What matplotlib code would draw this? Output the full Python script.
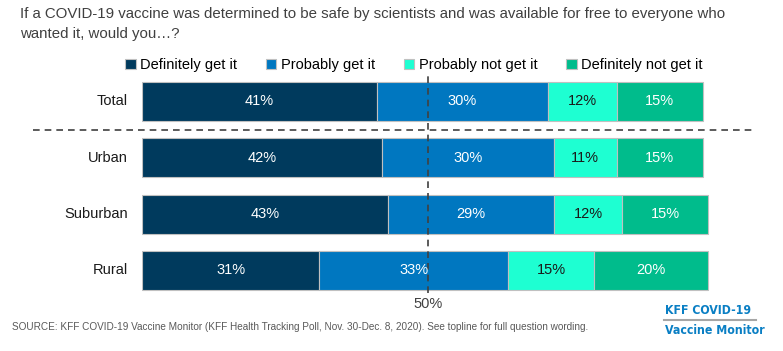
import numpy as np
import matplotlib
matplotlib.use("Agg")
import matplotlib.pyplot as plt

plt.rcParams['font.family'] = ['Liberation Sans', 'DejaVu Sans']

# data
groups = ['Total', 'Urban', 'Suburban', 'Rural']
series = ['Definitely get it', 'Probably get it', 'Probably not get it', 'Definitely not get it']
definitely = [41, 42, 43, 31]
probably = [30, 30, 29, 33]
probably_not = [12, 11, 12, 15]
definitely_not = [15, 15, 15, 20]
colors = ['#003a5d', '#0077c0', '#1effd2', '#00bc8c']
text_colors = ['white', 'white', '#1a1a1a', 'white']

fig = plt.figure(figsize=(7.83, 3.51), dpi=100)
ax = fig.add_axes([142/783, 58/351, 572/783, 217/351])

y = np.arange(len(groups))
left = np.zeros(len(groups))
for vals, name, c, tc in zip([definitely, probably, probably_not, definitely_not], series, colors, text_colors):
    vals = np.array(vals, dtype=float)
    ax.barh(y, vals, left=left, height=0.69, color=c, edgecolor='#c0c0c0', linewidth=0.8, label=name)
    for yi, l, v in zip(y, left, vals):
        ax.text(l + v/2, yi, f'{int(v)}%', ha='center', va='center', color=tc, fontsize=10.5)
    left += vals

ax.set_xlim(0, 100)
ax.set_ylim(3.4, -0.45)
ax.axis('off')

# 50% reference line
ax.axvline(50, color='#404040', ls=(0, (4, 3)), lw=1.2)
ax.text(50, 3.4 + 0.2, '50%', ha='center', va='center', color='#404040', fontsize=10.5, clip_on=False)

# separator under Total
ax.axhline(0.5, xmin=-0.19, xmax=1.072, color='#404040', ls=(0, (4, 3)), lw=1.2, clip_on=False)

for yi, g in zip(y, groups):
    ax.text(-2.5, yi, g, ha='right', va='center', fontsize=10.5, color='#1a1a1a')

ax.legend(loc='center', bbox_to_anchor=(414/783, 1 - 65/351), bbox_transform=fig.transFigure, ncol=4,
          frameon=False, fontsize=10.5, handlelength=0.7, handleheight=0.7, handletextpad=0.3,
          columnspacing=2.0, borderaxespad=0)

fig.text(20/783, 1 - 14/351, 'If a COVID-19 vaccine was determined to be safe by scientists and was available for free to everyone who',
         ha='left', va='center', fontsize=10.8, color='#404040')
fig.text(20/783, 1 - 34/351, 'wanted it, would you\u2026?', ha='left', va='center', fontsize=10.8, color='#404040')

fig.text(12/783, 1 - 327/351, 'SOURCE: KFF COVID-19 Vaccine Monitor (KFF Health Tracking Poll, Nov. 30-Dec. 8, 2020). See topline for full question wording.',
         ha='left', va='center', fontsize=7.2, color='#595959')

fig.text(665/783, 1 - 310/351, 'KFF COVID-19', ha='left', va='center', fontsize=8.8, fontweight='bold', color='#0a7fc4',
         family='DejaVu Sans', fontstretch='condensed')
fig.text(665/783, 1 - 331/351, 'Vaccine Monitor', ha='left', va='center', fontsize=8.8, fontweight='bold', color='#0a7fc4',
         family='DejaVu Sans', fontstretch='condensed')
fig.add_artist(plt.Line2D([664/783, 756/783], [1 - 320/351, 1 - 320/351], color='#a6a6a6', lw=1.5))

fig.savefig('out.png', dpi=100, facecolor='white')
